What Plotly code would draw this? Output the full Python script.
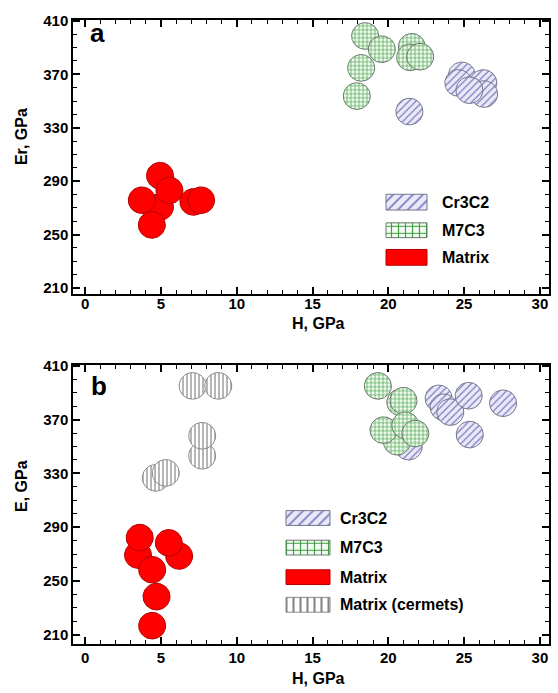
import numpy as np
import plotly.graph_objects as go

# ---------------- data: hardness H (GPa) vs modulus (GPa) ----------------
# panel a: reduced modulus Er
a_cr_H = [24.85, 24.62, 26.27, 26.32, 25.35, 21.39]
a_cr_E = [369.2, 363.5, 363.5, 355.2, 358.1, 342.1]
a_m7_H = [18.47, 19.57, 18.21, 17.92, 21.55, 21.44, 22.10]
a_m7_E = [398.7, 388.8, 374.8, 353.7, 390.6, 382.7, 383.2]
a_mx_H = [4.94, 3.74, 4.40, 4.94, 5.56, 7.14, 7.65]
a_mx_E = [270.7, 275.7, 257.2, 294.1, 283.1, 274.4, 275.7]

# panel b: elastic modulus E
b_cr_H = [21.34, 23.32, 23.65, 24.09, 25.30, 27.57, 25.37]
b_cr_E = [349.9, 385.8, 379.2, 375.6, 387.8, 382.2, 358.9]
b_m7_H = [19.31, 20.79, 21.00, 20.57, 19.68, 21.12, 21.78]
b_m7_E = [395.1, 382.9, 384.1, 353.6, 362.2, 365.8, 359.7]
b_mx_H = [3.49, 3.60, 6.20, 5.52, 4.42, 4.71, 4.42]
b_mx_E = [269.3, 282.3, 268.6, 278.4, 258.4, 238.4, 216.8]
b_cm_H = [7.09, 8.78, 7.72, 7.72, 4.66, 5.32]
b_cm_E = [395.1, 395.1, 343.1, 358.0, 326.7, 330.4]

x_ticks = [0, 5, 10, 15, 20, 25, 30]
y_ticks = [210, 250, 290, 330, 370, 410]

legend_a = ["Cr3C2", "M7C3", "Matrix"]
legend_b = ["Cr3C2", "M7C3", "Matrix", "Matrix (cermets)"]

# ---------------- page geometry (pixels) ----------------
W, H = 558, 693
XL, XR = 73, 549
PANELS = {"a": (12, 290), "b": (362, 645)}
X_RANGE = [-0.8, 30.6]
Y_RANGES = {"a": [205.6, 410.8], "b": [203.4, 410.8]}
R_PX = 13.5
FONT = "Liberation Sans, Arial, sans-serif"

STYLE = {
    "Cr3C2": dict(pat=dict(shape="/", fgcolor="#7c7cc4", bgcolor="#e9e9f7", size=5, solidity=0.25, fillmode="replace"),
                  line="#75758a"),
    "M7C3": dict(pat=dict(shape="+", fgcolor="#3f9f3f", bgcolor="#f2faf2", size=4, solidity=0.3, fillmode="replace"),
                 line="#66786a"),
    "Matrix": dict(fill="#ff0000", line="#b40000"),
    "Matrix (cermets)": dict(pat=dict(shape="|", fgcolor="#858585", bgcolor="#ffffff", size=4, solidity=0.3, fillmode="replace"),
                             line="#8a8a8a"),
}


def domain_y(top, bot):
    return [1 - bot / H, 1 - top / H]


fig = go.Figure()

theta = np.linspace(0, 2 * np.pi, 73)


def add_circles(H_vals, E_vals, name, panel, xa, ya):
    top, bot = PANELS[panel]
    yr = Y_RANGES[panel]
    rx = R_PX * (X_RANGE[1] - X_RANGE[0]) / (XR - XL)
    ry = R_PX * (yr[1] - yr[0]) / (bot - top)
    st = STYLE[name]
    for hx, ey in zip(H_vals, E_vals):
        kw = dict(
            x=hx + rx * np.cos(theta),
            y=ey + ry * np.sin(theta),
            mode="lines",
            fill="toself",
            line=dict(color=st["line"], width=1),
            xaxis=xa, yaxis=ya,
            showlegend=False, hoverinfo="skip", name=name,
        )
        if "pat" in st:
            kw["fillpattern"] = st["pat"]
            kw["fillcolor"] = st["pat"]["bgcolor"]
        else:
            kw["fillcolor"] = st["fill"]
        fig.add_trace(go.Scatter(**kw))


# panel a
add_circles(a_cr_H, a_cr_E, "Cr3C2", "a", "x", "y")
add_circles(a_m7_H, a_m7_E, "M7C3", "a", "x", "y")
add_circles(a_mx_H, a_mx_E, "Matrix", "a", "x", "y")
# panel b
add_circles(b_cr_H, b_cr_E, "Cr3C2", "b", "x2", "y2")
add_circles(b_m7_H, b_m7_E, "M7C3", "b", "x2", "y2")
add_circles(b_mx_H, b_mx_E, "Matrix", "b", "x2", "y2")
add_circles(b_cm_H, b_cm_E, "Matrix (cermets)", "b", "x2", "y2")

annotations = []


def add_legend(names, x0, x1, rows, text_x, xa, ya):
    for name, (y0, y1) in zip(names, rows):
        st = STYLE[name]
        kw = dict(
            x=[x0, x1, x1, x0, x0], y=[y0, y0, y1, y1, y0],
            mode="lines", fill="toself",
            line=dict(color=st["line"], width=1),
            xaxis=xa, yaxis=ya, showlegend=False, hoverinfo="skip",
        )
        if "pat" in st:
            p = dict(st["pat"])
            p["size"] = 7
            kw["fillpattern"] = p
            kw["fillcolor"] = p["bgcolor"]
        else:
            kw["fillcolor"] = st["fill"]
        fig.add_trace(go.Scatter(**kw))
        annotations.append(dict(
            x=text_x / W, y=1 - (y0 + y1) / 2 / H, xref="paper", yref="paper",
            text=name, showarrow=False, xanchor="left", yanchor="middle",
            font=dict(family=FONT, size=16, color="black", weight="bold"),
        ))


add_legend(legend_a, 386, 427, [(189, 205), (218, 233), (245, 261)], 440, "x3", "y3")
add_legend(legend_b, 286, 330, [(510, 525), (540, 555), (570, 585), (598, 613)], 338, "x4", "y4")

axis_common = dict(
    showgrid=False, zeroline=False, showline=True, linecolor="black", linewidth=1.5,
    mirror="allticks", ticks="inside", ticklen=7, tickwidth=1.5, tickcolor="black",
    tickfont=dict(family=FONT, size=15, color="black", weight="bold"),
)

xdom = [XL / W, XR / W]
layout = dict(
    width=W, height=H,
    margin=dict(l=0, r=0, t=0, b=0),
    paper_bgcolor="white", plot_bgcolor="white",
    showlegend=False,
)
for key, (xa, ya, panel) in {"1": ("xaxis", "yaxis", "a"), "2": ("xaxis2", "yaxis2", "b")}.items():
    top, bot = PANELS[panel]
    anchor_x = "y" if key == "1" else "y2"
    anchor_y = "x" if key == "1" else "x2"
    layout[xa] = dict(
        axis_common, domain=xdom, range=X_RANGE, anchor=anchor_x,
        tickmode="array", tickvals=x_ticks, ticktext=[str(v) for v in x_ticks],
        ticklabelstandoff=-5 if panel == "a" else 0,
        minor=dict(tickmode="linear", dtick=1, tick0=0, ticks="inside", ticklen=4,
                   tickwidth=1.2, tickcolor="black", showgrid=False),
    )
    layout[ya] = dict(
        axis_common, domain=domain_y(top, bot), range=Y_RANGES[panel], anchor=anchor_y,
        tickmode="array", tickvals=y_ticks, ticktext=[str(v) for v in y_ticks],
        minor=dict(tickmode="linear", dtick=10, tick0=210, ticks="inside", ticklen=4,
                   tickwidth=1.2, tickcolor="black", showgrid=False),
    )

# overlay axes in pixel units, used for the legend swatches
layout["xaxis3"] = dict(overlaying="x", anchor="y3", range=[XL, XR], visible=False)
layout["yaxis3"] = dict(overlaying="y", anchor="x3", range=[PANELS["a"][1], PANELS["a"][0]], visible=False)
layout["xaxis4"] = dict(overlaying="x2", anchor="y4", range=[XL, XR], visible=False)
layout["yaxis4"] = dict(overlaying="y2", anchor="x4", range=[PANELS["b"][1], PANELS["b"][0]], visible=False)

title_font = dict(family=FONT, size=16, color="black", weight="bold")
for text, px, py, ang in [
    ("H, GPa", 318, 320, 0), ("H, GPa", 318, 680, 0),
    ("Er, GPa", 21, 131, -90), ("E, GPa", 21, 485, -90),
]:
    annotations.append(dict(x=px / W, y=1 - py / H, xref="paper", yref="paper", text=text,
                            showarrow=False, textangle=ang, xanchor="center", yanchor="middle",
                            font=title_font))

for text, px, py in [("a", 97, 25), ("b", 99, 384)]:
    annotations.append(dict(x=px / W, y=1 - py / H, xref="paper", yref="paper", text=text,
                            showarrow=False, xanchor="center", yanchor="middle",
                            font=dict(family=FONT, size=26, color="black", weight="bold")))

layout["annotations"] = annotations
fig.update_layout(**layout)

fig.write_html("out.html")
